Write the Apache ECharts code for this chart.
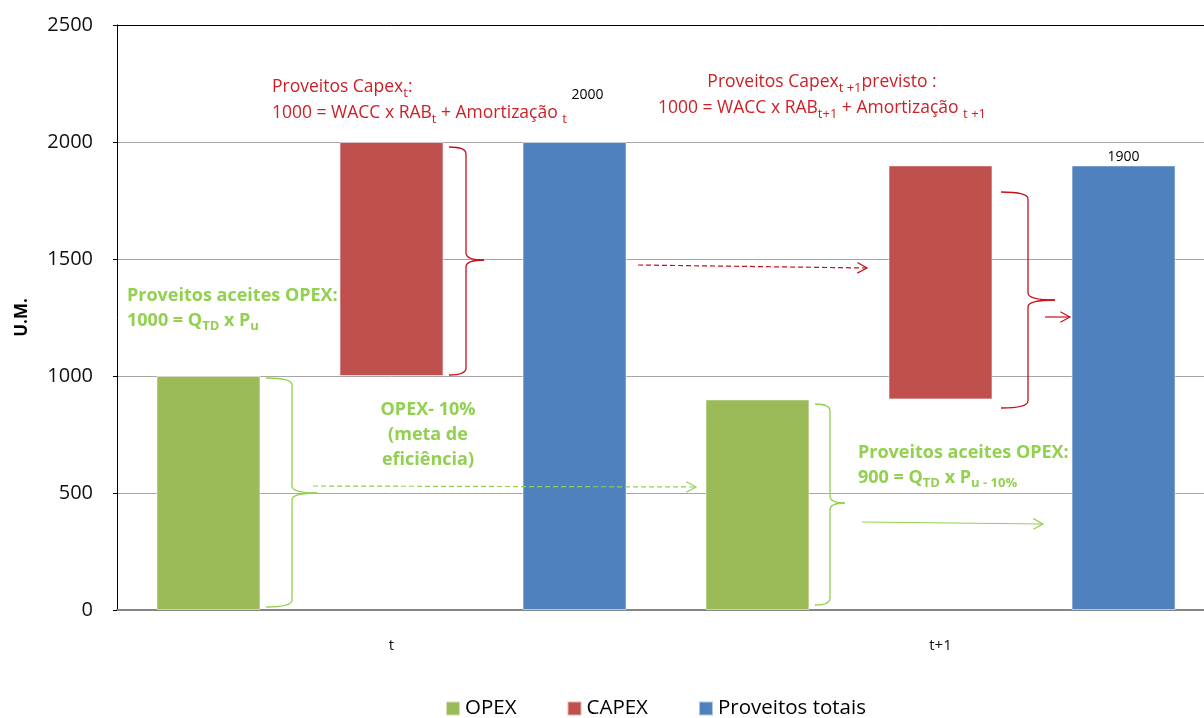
<!DOCTYPE html>
<html>
<head>
<meta charset="utf-8">
<script src="https://cdn.jsdelivr.net/npm/echarts@6/dist/echarts.min.js"></script>
<style>
  html, body { margin: 0; padding: 0; background: #fff; overflow: hidden; }
  #chart { width: 1216px; height: 718px; }
</style>
</head>
<body>
<div id="chart"></div>
<script>
// Revenue build-up per regulatory period
const categories = ['t', 't+1'];
const opexValues = [1000, 900];      // accepted OPEX revenue
const capexValues = [1000, 1000];    // CAPEX revenue, stacked on top of OPEX level
const totalValues = [2000, 1900];    // total revenue
const yTicks = [0, 500, 1000, 1500, 2000, 2500];

const FONT = '"Open Sans", Lato, sans-serif';
const GREEN = '#9BBB59', RED = '#C0504D', BLUE = '#4F81BD';
const NOTE_RED = '#CC1F26', NOTE_GREEN = '#92D050';
const LINE_RED = '#C8101C', LINE_GREEN = '#92D050';
const TOP_Z = 100;

// curly brace opening to the right: ends at x0, spine at xv, tip at xt
function brace(x0, xv, xt, yTop, yMid, yBot, color) {
  const r = 7;
  const st = { stroke: color, fill: null, lineWidth: 1.3 };
  const parts = [
    { type: 'bezierCurve', shape: { x1: x0, y1: yTop, cpx1: xv, cpy1: yTop, x2: xv, y2: yTop + r } },
    { type: 'line', shape: { x1: xv, y1: yTop + r, x2: xv, y2: yMid - r } },
    { type: 'bezierCurve', shape: { x1: xv, y1: yMid - r, cpx1: xv, cpy1: yMid, x2: xt, y2: yMid } },
    { type: 'bezierCurve', shape: { x1: xt, y1: yMid, cpx1: xv, cpy1: yMid, x2: xv, y2: yMid + r } },
    { type: 'line', shape: { x1: xv, y1: yMid + r, x2: xv, y2: yBot - r } },
    { type: 'bezierCurve', shape: { x1: xv, y1: yBot - r, cpx1: xv, cpy1: yBot, x2: x0, y2: yBot } }
  ];
  return {
    type: 'group', z: TOP_Z,
    children: parts.map(p => Object.assign(p, { z: TOP_Z, style: st }))
  };
}

// arrow with an open chevron head
function arrow(x1, y1, x2, y2, color, dashed) {
  const ang = Math.atan2(y2 - y1, x2 - x1);
  const L = 11, W = 0.5;
  return {
    type: 'group', z: TOP_Z,
    children: [
      { type: 'line', z: TOP_Z, shape: { x1: x1, y1: y1, x2: x2, y2: y2 },
        style: { stroke: color, fill: null, lineWidth: 1.2, lineDash: dashed ? [5, 3] : null } },
      { type: 'polyline', z: TOP_Z, shape: { points: [
        [x2 - L * Math.cos(ang - W), y2 - L * Math.sin(ang - W)],
        [x2, y2],
        [x2 - L * Math.cos(ang + W), y2 - L * Math.sin(ang + W)]
      ] }, style: { stroke: color, fill: null, lineWidth: 1.2 } }
    ]
  };
}

function note(x, y, text, color, bold, align, size, lineH) {
  const w = bold ? 'bold' : 'normal';
  return {
    type: 'text', x: x, y: y, z: TOP_Z,
    style: {
      text: text,
      fill: color,
      align: align || 'left',
      verticalAlign: 'top',
      font: w + ' ' + size + 'px ' + FONT,
      rich: {
        m: { fontSize: size, fontWeight: w, fontFamily: FONT, fill: color, lineHeight: lineH },
        s: { fontSize: Math.round(size * 0.72), fontWeight: w, fontFamily: FONT, fill: color, lineHeight: 10, verticalAlign: 'bottom' }
      }
    }
  };
}

const chart = echarts.init(document.getElementById('chart'), null, { renderer: 'canvas' });

const barCommon = { type: 'bar', barWidth: 104, barGap: '76%', animation: false };

chart.setOption({
  animation: false,
  backgroundColor: '#ffffff',
  textStyle: { fontFamily: FONT },
  grid: { left: 117, top: 25, width: 1098, height: 585, containLabel: false },
  legend: {
    data: ['OPEX', 'CAPEX', 'Proveitos totais'],
    left: 445, top: 698, padding: 0,
    icon: 'rect', itemWidth: 14, itemHeight: 14, itemGap: 50,
    textStyle: { fontFamily: FONT, fontSize: 20.5, color: '#000' }
  },
  xAxis: [{
    type: 'category',
    data: categories,
    axisLine: { show: true, lineStyle: { color: '#868686', width: 2 } },
    axisTick: { show: false },
    axisLabel: { color: '#111', fontSize: 15, fontFamily: FONT, margin: 28 },
    splitLine: { show: false }
  }, {
    type: 'category',
    data: categories,
    position: 'top',
    z: 10,
    axisLine: { show: true, lineStyle: { color: '#000', width: 1 } },
    axisTick: { show: false },
    axisLabel: { show: false },
    splitLine: { show: false }
  }],
  yAxis: {
    type: 'value',
    min: yTicks[0], max: yTicks[yTicks.length - 1], interval: 500,
    name: 'U.M.',
    nameLocation: 'middle',
    nameGap: 86,
    nameRotate: 90,
    nameTextStyle: { fontSize: 17, fontWeight: 'bold', color: '#000', fontFamily: FONT },
    axisLine: { show: true, lineStyle: { color: '#000', width: 1 } },
    axisTick: { show: true, length: 4, lineStyle: { color: '#000' } },
    axisLabel: { color: '#111', fontSize: 20, fontFamily: FONT, margin: 24, formatter: v => String(v) },
    splitLine: { show: true, lineStyle: { color: '#A6A6A6', width: 1 } }
  },
  series: [
    Object.assign({}, barCommon, {
      name: 'OPEX',
      data: opexValues,
      itemStyle: { color: GREEN, borderColor: 'rgba(255,255,255,0.55)', borderWidth: 1 }
    }),
    Object.assign({}, barCommon, {
      name: 'CAPEX base',
      stack: 'capex',
      silent: true,
      data: opexValues,
      itemStyle: { color: 'rgba(0,0,0,0)' }
    }),
    Object.assign({}, barCommon, {
      name: 'CAPEX',
      stack: 'capex',
      data: capexValues,
      itemStyle: { color: RED, borderColor: 'rgba(255,255,255,0.55)', borderWidth: 1 }
    }),
    Object.assign({}, barCommon, {
      name: 'Proveitos totais',
      data: totalValues.map((v, i) => ({
        value: v,
        label: { offset: i === 0 ? [13, -39] : [0, 0] }
      })),
      itemStyle: { color: BLUE, borderColor: 'rgba(255,255,255,0.55)', borderWidth: 1 },
      label: {
        show: true, position: 'top', distance: 1,
        color: '#000', fontSize: 14, fontFamily: FONT
      }
    })
  ],
  graphic: [
    // CAPEX notes
    note(272, 74, '{m|Proveitos Capex}{s|t}{m|:}\n{m|1000 = WACC x RAB}{s|t}{m| + Amortização }{s|t}', NOTE_RED, false, 'left', 17.5, 26),
    note(822, 69, '{m|Proveitos Capex}{s|t +1}{m|previsto :}\n{m|1000 = WACC x RAB}{s|t+1}{m| + Amortização }{s|t +1}', NOTE_RED, false, 'center', 17.5, 26),
    // OPEX notes
    note(127, 283, '{m|Proveitos aceites OPEX:}\n{m|1000 = Q}{s|TD}{m| x P}{s|u}', NOTE_GREEN, true, 'left', 18, 25),
    note(428, 397, '{m|OPEX- 10%}\n{m|(meta de}\n{m|eficiência)}', NOTE_GREEN, true, 'center', 18, 25),
    note(858, 440, '{m|Proveitos aceites OPEX:}\n{m|900 = Q}{s|TD}{m| x P}{s|u - 10%}', NOTE_GREEN, true, 'left', 18, 25),
    // braces
    brace(449, 466, 484, 147, 260, 375, LINE_RED),
    brace(1001, 1028, 1055, 192, 300, 408, LINE_RED),
    brace(266, 292, 317, 378, 493, 607, LINE_GREEN),
    brace(815, 830, 845, 404, 503, 605, LINE_GREEN),
    // arrows
    arrow(313, 486, 696, 487, LINE_GREEN, true),
    arrow(638, 265, 867, 268, LINE_RED, true),
    arrow(1045, 317, 1070, 317, LINE_RED, false),
    arrow(862, 522, 1043, 524, LINE_GREEN, false)
  ]
});
</script>
</body>
</html>
